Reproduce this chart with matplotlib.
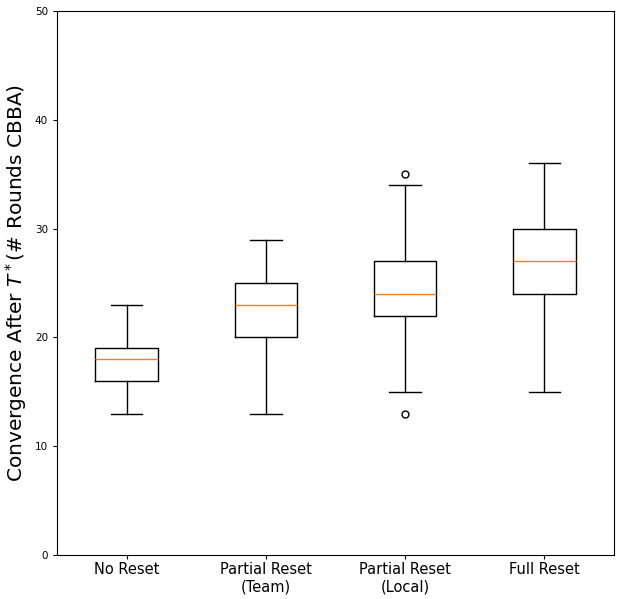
import matplotlib
matplotlib.use("Agg")
import matplotlib.pyplot as plt

# ── Data ───────────────────────────────────────────────────────────────────
labels = ["No Reset", "Partial Reset\n(Team)", "Partial Reset\n(Local)", "Full Reset"]
whislo = [13, 13, 15, 15]
q1 = [16, 20, 22, 24]
med = [18, 23, 24, 27]
q3 = [19, 25, 27, 30]
whishi = [23, 29, 34, 36]
fliers = [[], [], [13, 35], []]

stats = [
    dict(label=labels[i], whislo=whislo[i], q1=q1[i], med=med[i],
         q3=q3[i], whishi=whishi[i], fliers=fliers[i])
    for i in range(len(labels))
]

fig = plt.figure(figsize=(6.25, 5.99), dpi=100)
ax = fig.add_axes([0.0912, 0.0735, 0.8912, 0.908])

ax.bxp(stats, showfliers=True, flierprops=dict(markersize=5))
ax.set_ylim(0, 50)
ax.set_yticks([0, 10, 20, 30, 40, 50])
ax.tick_params(axis="y", labelsize=7.5, length=3)
ax.tick_params(axis="x", labelsize=10.5, length=3, pad=2)
ax.set_ylabel(r"Convergence After $T^*$(# Rounds CBBA)", fontsize=14.5)

fig.savefig("out.png", dpi=100)
